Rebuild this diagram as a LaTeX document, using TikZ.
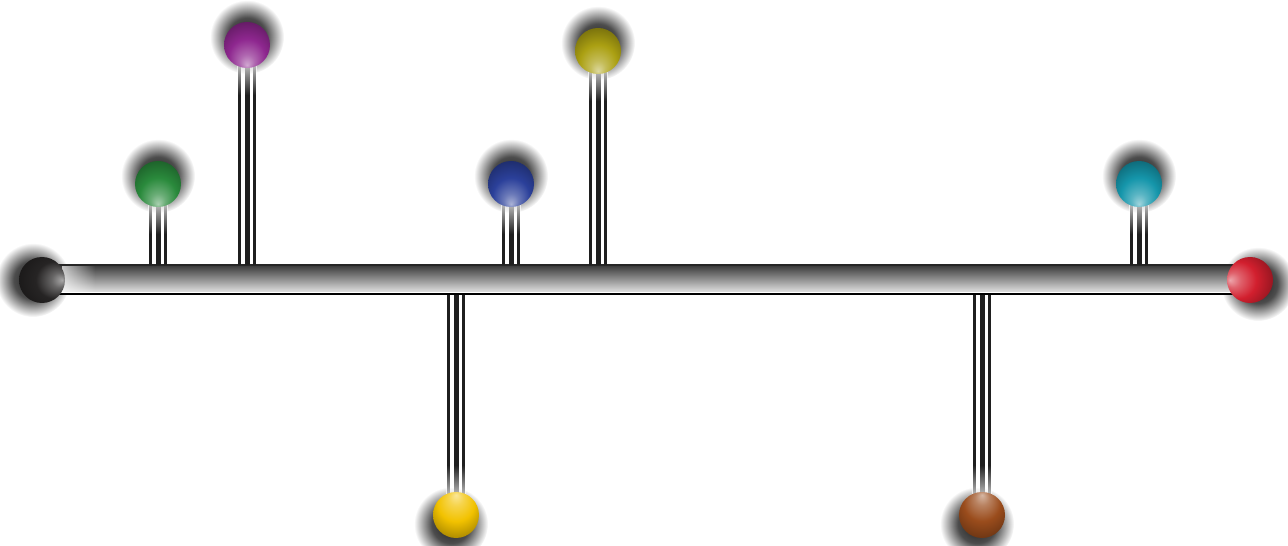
\documentclass[tikz,border=0pt]{standalone}
\usetikzlibrary{fadings}

\definecolor{knobblack}{HTML}{262424}
\definecolor{knobred}{HTML}{D21F2E}
\definecolor{knobgreen}{HTML}{2A8A3C}
\definecolor{knobpurple}{HTML}{8E278F}
\definecolor{knobblue}{HTML}{2B409A}
\definecolor{knobolive}{HTML}{ABA012}
\definecolor{knobcyan}{HTML}{1596AB}
\definecolor{knobyellow}{HTML}{F2C200}
\definecolor{knobbrown}{HTML}{9A4C1C}
\colorlet{knobcol}{knobblack}

\pgfdeclareradialshading[knobcol]{knobshine}{\pgfpoint{0bp}{-22bp}}{%
  color(0bp)=(knobcol!40!white); color(8bp)=(knobcol!70!white);
  color(20bp)=(knobcol); color(36bp)=(knobcol!65!black);
  color(50bp)=(knobcol!50!black)}
\pgfdeclareradialshading{haloshade}{\pgfpointorigin}{%
  color(0bp)=(black!10); color(13bp)=(black!30);
  color(25bp)=(black); color(50bp)=(black)}
\pgfdeclarefading{halo}{\pgfuseshading{haloshade}}
\tikzfading[name=fadedown, top color=transparent!25, bottom color=transparent!100]
\tikzfading[name=fadeup, top color=transparent!100, bottom color=transparent!25]
\tikzfading[name=fadeside, left color=transparent!30, right color=transparent!100]

\begin{document}
\begin{tikzpicture}[x=0.02cm,y=-0.02cm,
  knob/.style={circle,minimum size=0.92cm,inner sep=0pt,shading=knobshine},
  wire/.style={fill=black!88}]
\useasboundingbox (0,0) rectangle (1288,546);
% soft shadows behind the knobs
\foreach \x/\y/\dx/\dy in {42/280/-9/0,1250/280/8/4,158/184/0/-8,247/45/0/-8,
  511/184/0/-8,598/51/0/-8,1139/184/0/-8,456/515/-5/9,982/515/-5/9}
  \fill[black,path fading=halo] (\x+\dx,\y+\dy) circle (0.74cm);
% main bar
\shade[top color=black!78,middle color=black!52,bottom color=black!12]
  (42,265) rectangle (1250,292);
\fill[black!85] (42,264.5) rectangle (1250,266);
\fill[white] (42,292) rectangle (1250,293.5);
\fill[black] (42,293.5) rectangle (1250,295.5);
\fill[white,path fading=fadeside] (62,266) rectangle (95,293);
% stems above the bar
\foreach \x/\y in {158/184,247/45,511/184,598/51,1139/184} {
  \fill[wire] (\x-9,\y) rectangle (\x-6.5,265);
  \fill[wire] (\x-2.5,\y) rectangle (\x+2.5,265);
  \fill[wire] (\x+6,\y) rectangle (\x+8.5,265);
  \fill[white,path fading=fadedown] (\x-10,\y+18) rectangle (\x+10,\y+50);
}
% stems below the bar
\foreach \x/\y in {456/515,982/515} {
  \fill[wire] (\x-9,295) rectangle (\x-6.5,\y);
  \fill[wire] (\x-2.5,295) rectangle (\x+2.5,\y);
  \fill[wire] (\x+6,295) rectangle (\x+8.5,\y);
  \fill[white,path fading=fadeup] (\x-10,\y-50) rectangle (\x+10,\y-18);
}
% knobs
\foreach \n/\x/\y/\a/\c in {left/42/280/90/knobblack,right/1250/280/-90/knobred,
  green/158/184/0/knobgreen,purple/247/45/0/knobpurple,blue/511/184/0/knobblue,
  olive/598/51/0/knobolive,cyan/1139/184/0/knobcyan,
  yellow/456/515/180/knobyellow,brown/982/515/180/knobbrown} {
  \colorlet{knobcol}{\c}
  \node[knob,shading angle=\a] (\n) at (\x,\y) {};
}
\end{tikzpicture}
\end{document}
